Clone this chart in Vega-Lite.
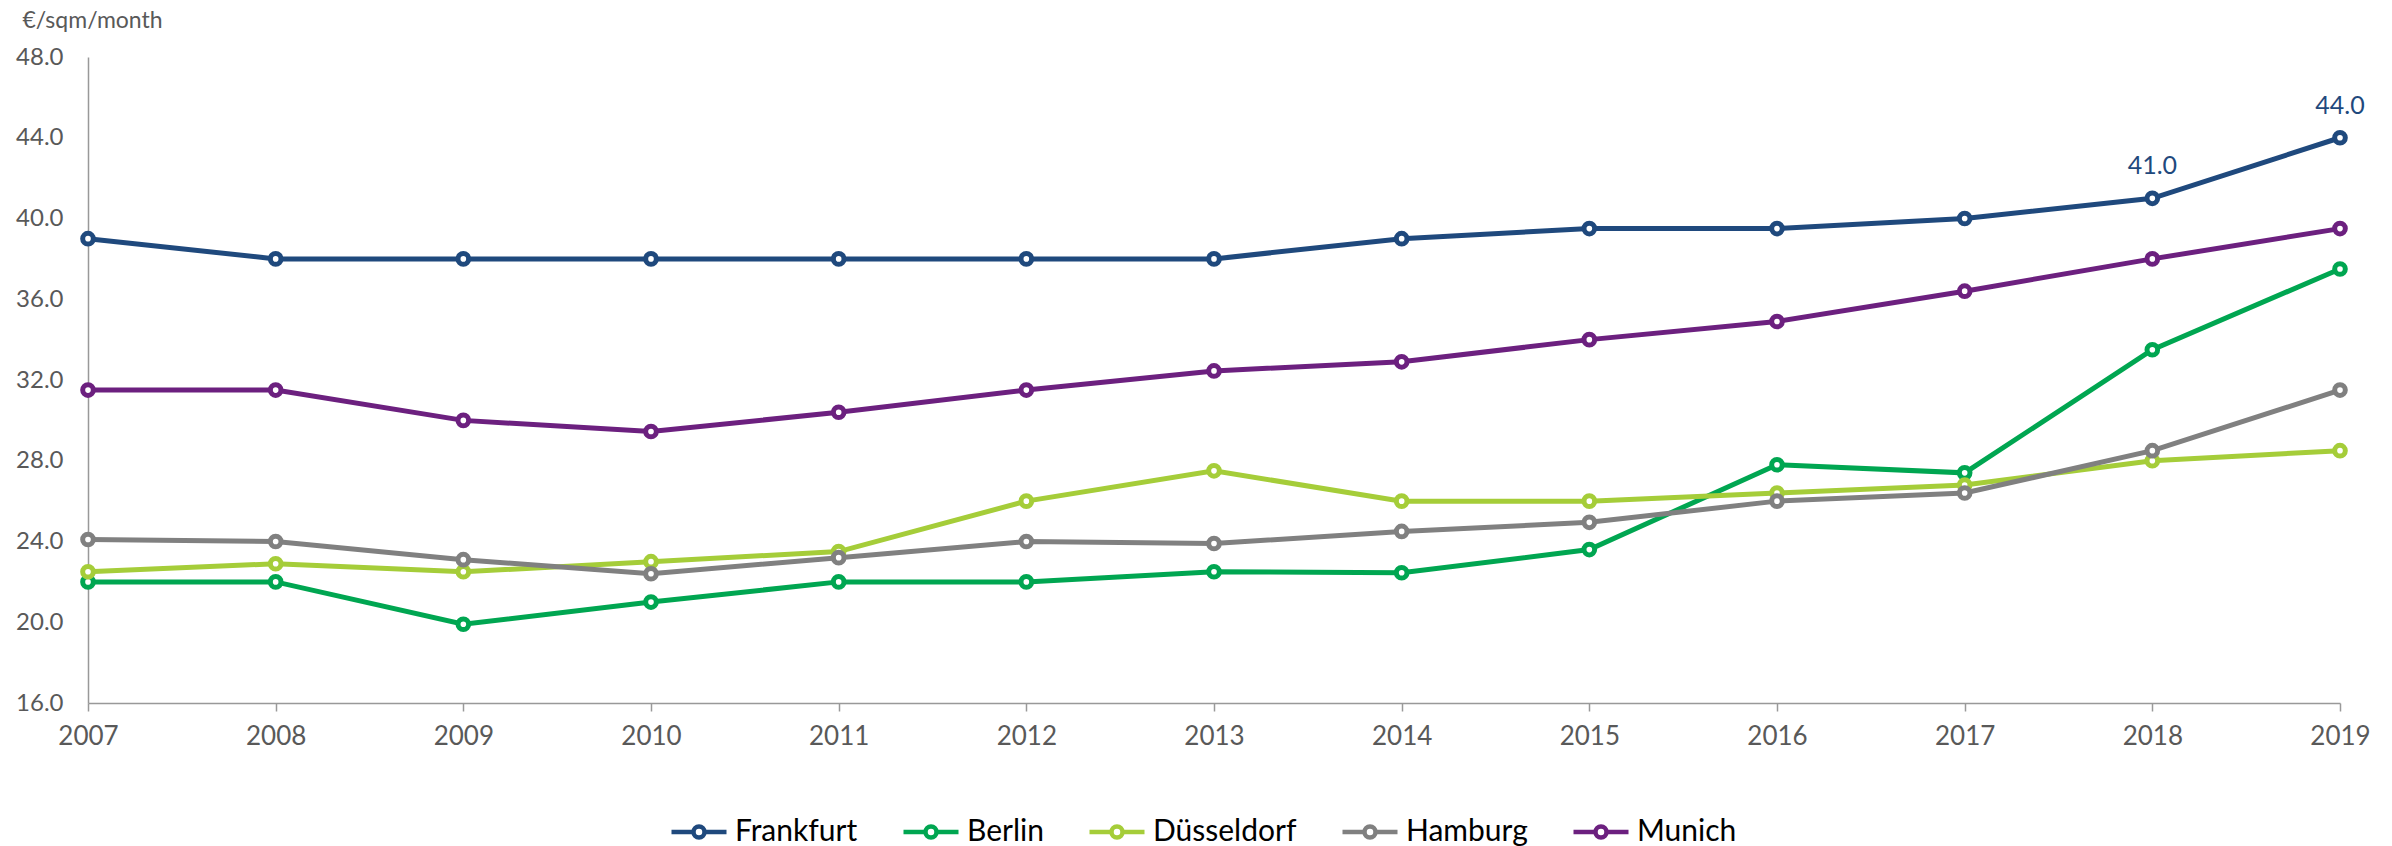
{
  "$schema": "https://vega.github.io/schema/vega-lite/v6.json",
  "width": 2252,
  "height": 646,
  "autosize": "none",
  "padding": {"left": 88, "top": 57, "right": 52, "bottom": 143},
  "background": "white",
  "config": {
    "view": {"stroke": null},
    "font": "Lato",
    "axis": {"grid": false, "domainColor": "#999999", "domainWidth": 1.5, "tickColor": "#999999", "tickWidth": 1.5, "labelColor": "#595959", "labelFont": "Lato", "titleFont": "Lato"}
  },
  "data": {
    "values": [
      {"year": 2007, "city": "Frankfurt", "rent": 39.0},
      {"year": 2008, "city": "Frankfurt", "rent": 38.0},
      {"year": 2009, "city": "Frankfurt", "rent": 38.0},
      {"year": 2010, "city": "Frankfurt", "rent": 38.0},
      {"year": 2011, "city": "Frankfurt", "rent": 38.0},
      {"year": 2012, "city": "Frankfurt", "rent": 38.0},
      {"year": 2013, "city": "Frankfurt", "rent": 38.0},
      {"year": 2014, "city": "Frankfurt", "rent": 39.0},
      {"year": 2015, "city": "Frankfurt", "rent": 39.5},
      {"year": 2016, "city": "Frankfurt", "rent": 39.5},
      {"year": 2017, "city": "Frankfurt", "rent": 40.0},
      {"year": 2018, "city": "Frankfurt", "rent": 41.0},
      {"year": 2019, "city": "Frankfurt", "rent": 44.0},
      {"year": 2007, "city": "Berlin", "rent": 22.0},
      {"year": 2008, "city": "Berlin", "rent": 22.0},
      {"year": 2009, "city": "Berlin", "rent": 19.9},
      {"year": 2010, "city": "Berlin", "rent": 21.0},
      {"year": 2011, "city": "Berlin", "rent": 22.0},
      {"year": 2012, "city": "Berlin", "rent": 22.0},
      {"year": 2013, "city": "Berlin", "rent": 22.5},
      {"year": 2014, "city": "Berlin", "rent": 22.45},
      {"year": 2015, "city": "Berlin", "rent": 23.6},
      {"year": 2016, "city": "Berlin", "rent": 27.8},
      {"year": 2017, "city": "Berlin", "rent": 27.4},
      {"year": 2018, "city": "Berlin", "rent": 33.5},
      {"year": 2019, "city": "Berlin", "rent": 37.5},
      {"year": 2007, "city": "Düsseldorf", "rent": 22.5},
      {"year": 2008, "city": "Düsseldorf", "rent": 22.9},
      {"year": 2009, "city": "Düsseldorf", "rent": 22.5},
      {"year": 2010, "city": "Düsseldorf", "rent": 23.0},
      {"year": 2011, "city": "Düsseldorf", "rent": 23.5},
      {"year": 2012, "city": "Düsseldorf", "rent": 26.0},
      {"year": 2013, "city": "Düsseldorf", "rent": 27.5},
      {"year": 2014, "city": "Düsseldorf", "rent": 26.0},
      {"year": 2015, "city": "Düsseldorf", "rent": 26.0},
      {"year": 2016, "city": "Düsseldorf", "rent": 26.4},
      {"year": 2017, "city": "Düsseldorf", "rent": 26.8},
      {"year": 2018, "city": "Düsseldorf", "rent": 28.0},
      {"year": 2019, "city": "Düsseldorf", "rent": 28.5},
      {"year": 2007, "city": "Hamburg", "rent": 24.1},
      {"year": 2008, "city": "Hamburg", "rent": 24.0},
      {"year": 2009, "city": "Hamburg", "rent": 23.1},
      {"year": 2010, "city": "Hamburg", "rent": 22.4},
      {"year": 2011, "city": "Hamburg", "rent": 23.2},
      {"year": 2012, "city": "Hamburg", "rent": 24.0},
      {"year": 2013, "city": "Hamburg", "rent": 23.9},
      {"year": 2014, "city": "Hamburg", "rent": 24.5},
      {"year": 2015, "city": "Hamburg", "rent": 24.95},
      {"year": 2016, "city": "Hamburg", "rent": 26.0},
      {"year": 2017, "city": "Hamburg", "rent": 26.4},
      {"year": 2018, "city": "Hamburg", "rent": 28.5},
      {"year": 2019, "city": "Hamburg", "rent": 31.5},
      {"year": 2007, "city": "Munich", "rent": 31.5},
      {"year": 2008, "city": "Munich", "rent": 31.5},
      {"year": 2009, "city": "Munich", "rent": 30.0},
      {"year": 2010, "city": "Munich", "rent": 29.45},
      {"year": 2011, "city": "Munich", "rent": 30.4},
      {"year": 2012, "city": "Munich", "rent": 31.5},
      {"year": 2013, "city": "Munich", "rent": 32.45},
      {"year": 2014, "city": "Munich", "rent": 32.9},
      {"year": 2015, "city": "Munich", "rent": 34.0},
      {"year": 2016, "city": "Munich", "rent": 34.9},
      {"year": 2017, "city": "Munich", "rent": 36.4},
      {"year": 2018, "city": "Munich", "rent": 38.0},
      {"year": 2019, "city": "Munich", "rent": 39.5}
    ]
  },
  "encoding": {
    "x": {
      "field": "year", "type": "quantitative",
      "scale": {"domain": [2007, 2019], "nice": false, "zero": false},
      "axis": {"values": [2007,2008,2009,2010,2011,2012,2013,2014,2015,2016,2017,2018,2019], "format": "d", "title": null, "tickSize": 8, "labelPadding": 12, "labelFontSize": 26, "labelBaseline": "top", "labelFlush": false}
    },
    "y": {
      "field": "rent", "type": "quantitative",
      "scale": {"domain": [16, 48], "nice": false, "zero": false},
      "axis": {"values": [16,20,24,28,32,36,40,44,48], "format": ".1f", "ticks": false, "labelPadding": 25, "labelFontSize": 24, "title": "€/sqm/month", "titleAngle": 0, "titleAlign": "left", "titleBaseline": "top", "titleX": -66, "titleY": -48, "titleFontSize": 23, "titleFontWeight": "normal", "titleColor": "#595959"}
    }
  },
  "layer": [
    {
      "mark": {"type": "line", "strokeWidth": 5, "point": {"filled": false, "fill": "white", "size": 113, "strokeWidth": 5, "opacity": 1}},
      "encoding": {
        "color": {
          "field": "city", "type": "nominal",
          "scale": {"domain": ["Frankfurt", "Berlin", "Düsseldorf", "Hamburg", "Munich"], "range": ["#1F497D", "#00A651", "#A5CD39", "#808080", "#6C207F"]},
          "legend": {
            "title": null, "orient": "none", "direction": "horizontal", "legendX": 581, "legendY": 745, "padding": 0,
            "symbolType": "M-1,0H-0.2M0.2,0H1M-0.2,0A0.2,0.2 0 1,1 0.2,0A0.2,0.2 0 1,1 -0.2,0",
            "symbolSize": 3025, "symbolStrokeWidth": 4.5, "symbolFillColor": "white",
            "labelFontSize": 30, "labelColor": "#000000", "labelFont": "Lato", "labelBaseline": "middle", "labelOffset": 6, "columnPadding": 36, "labelLimit": 400,
            "encode": {"symbols": {"update": {"fill": {"value": "white"}, "strokeWidth": {"value": 4.5}}}}
          }
        },
        "order": {"field": "year", "type": "quantitative"}
      }
    },
    {
      "transform": [{"filter": "datum.city === 'Frankfurt' && datum.year >= 2018"}],
      "mark": {"type": "text", "dy": -24, "baseline": "alphabetic", "align": "center", "fontSize": 25, "color": "#1F497D", "font": "Lato"},
      "encoding": {"text": {"field": "rent", "type": "quantitative", "format": ".1f"}}
    }
  ]
}
